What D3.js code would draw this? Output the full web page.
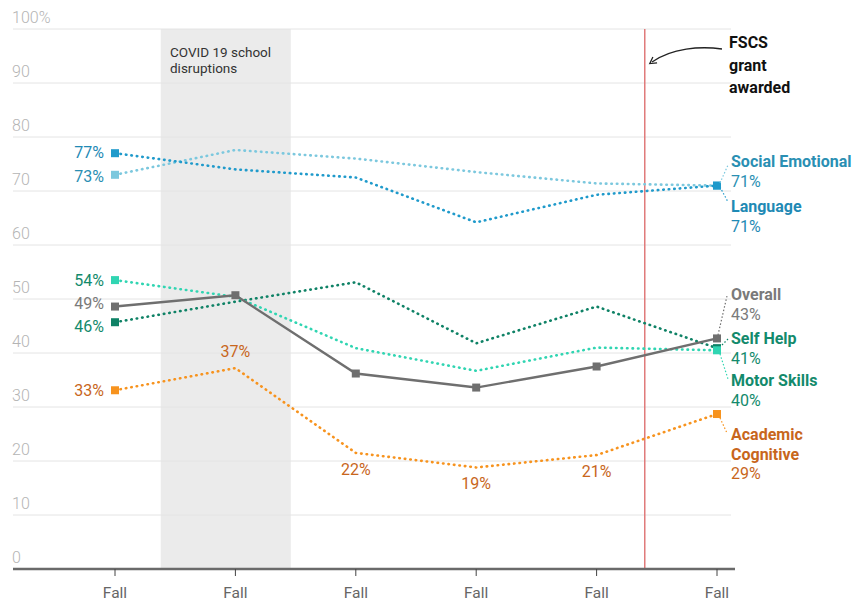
<!DOCTYPE html>
<html>
<head>
<meta charset="utf-8">
<script src="https://cdn.jsdelivr.net/npm/d3@7"></script>
<style>
  body { margin: 0; background: #fff; }
  svg { font-family: Roboto, "Noto Sans", sans-serif; }
</style>
</head>
<body>
<div id="chart"></div>
<script>
// Data
const periods = ["Fall", "Fall", "Fall", "Fall", "Fall", "Fall"];
const yTicks = [0, 10, 20, 30, 40, 50, 60, 70, 80, 90, 100];

const socialEmotional = [73, 77.6, 76, 73.5, 71.4, 71];
const language = [77, 74, 72.5, 64.2, 69.3, 71];
const overall = [48.6, 50.7, 36.2, 33.6, 37.5, 42.7];
const selfHelp = [45.7, 49.5, 53.1, 41.8, 48.6, 40.9];
const motorSkills = [53.5, 50.4, 40.9, 36.7, 41, 40.5];
const academicCognitive = [33.1, 37.2, 21.5, 18.8, 21.1, 28.7];

// shaded covid period and grant line, in period-index units
const covidSpan = [0.38, 1.46];
const grantAt = 4.4;

const series = [
  { name: ["Social Emotional"], values: socialEmotional, line: "#7cc8de", mark: "#7cc8de", text: "#2a8fb3", dotted: true, endLabel: "71%", startLabel: "73%" },
  { name: ["Language"], values: language, line: "#1f9acb", mark: "#1f9acb", text: "#1f8ab5", dotted: true, endLabel: "71%", startLabel: "77%" },
  { name: ["Self Help"], values: selfHelp, line: "#0f8266", mark: "#0f8266", text: "#138a6c", dotted: true, endLabel: "41%", startLabel: "46%" },
  { name: ["Motor Skills"], values: motorSkills, line: "#30d5b2", mark: "#30d5b2", text: "#138a6c", dotted: true, endLabel: "40%", startLabel: "54%" },
  { name: ["Academic", "Cognitive"], values: academicCognitive, line: "#f7931e", mark: "#f7931e", text: "#c8661c", dotted: true, endLabel: "29%", startLabel: "33%" },
  { name: ["Overall"], values: overall, line: "#6f6f6f", mark: "#6f6f6f", text: "#7a7a7a", dotted: false, endLabel: "43%", startLabel: "49%" }
];

const width = 865, height = 601;
const svg = d3.select("#chart").append("svg")
  .attr("width", width)
  .attr("height", height);

const x = d3.scaleLinear().domain([0, periods.length - 1]).range([115, 717]);
const y = d3.scaleLinear().domain([0, 100]).range([569, 29]);
const gridLeft = 13, gridRight = 731;

// covid band
svg.append("rect")
  .attr("x", x(covidSpan[0]))
  .attr("y", y(100))
  .attr("width", x(covidSpan[1]) - x(covidSpan[0]))
  .attr("height", y(0) - y(100))
  .attr("fill", "#ebebeb");

// gridlines
svg.selectAll("line.grid")
  .data(yTicks.filter(d => d > 0))
  .enter().append("line")
  .attr("class", "grid")
  .attr("x1", gridLeft).attr("x2", gridRight)
  .attr("y1", d => y(d)).attr("y2", d => y(d))
  .attr("stroke", "#e4e4e4")
  .attr("stroke-width", 1);

// y labels
svg.selectAll("text.ytick")
  .data(yTicks)
  .enter().append("text")
  .attr("class", "ytick")
  .attr("x", 12)
  .attr("y", d => y(d) - 6.5)
  .attr("fill", "#b4b4b4")
  .style("font-size", "16px")
  .style("font-weight", 300)
  .text(d => d === 100 ? "100%" : d);

svg.append("text")
  .attr("x", 170).attr("y", 57)
  .attr("fill", "#333")
  .style("font-size", "13.5px")
  .text("COVID 19 school");
svg.append("text")
  .attr("x", 170).attr("y", 73)
  .attr("fill", "#333")
  .style("font-size", "13.5px")
  .text("disruptions");

// grant line
svg.append("line")
  .attr("x1", x(grantAt)).attr("x2", x(grantAt))
  .attr("y1", y(100)).attr("y2", y(0))
  .attr("stroke", "#e07a7a")
  .attr("stroke-width", 1.5);

// grant annotation
svg.append("defs").append("marker")
  .attr("id", "arrow")
  .attr("viewBox", "0 0 10 10")
  .attr("refX", 5).attr("refY", 5)
  .attr("markerWidth", 7).attr("markerHeight", 7)
  .attr("orient", "auto-start-reverse")
  .append("path")
  .attr("d", "M1,1 L8,5 L1,9")
  .attr("fill", "none")
  .attr("stroke", "#222")
  .attr("stroke-width", 1.4);

svg.append("path")
  .attr("d", "M722,49 C700,46 672,48 652,62")
  .attr("fill", "none")
  .attr("stroke", "#222")
  .attr("stroke-width", 1.3)
  .attr("marker-end", "url(#arrow)");

["FSCS", "grant", "awarded"].forEach((t, i) => {
  svg.append("text")
    .attr("x", 729).attr("y", 48 + i * 22.5)
    .attr("fill", "#111")
    .style("font-size", "16px")
    .style("font-weight", "bold")
    .text(t);
});

// x axis
svg.append("line")
  .attr("x1", gridLeft).attr("x2", gridRight + 4)
  .attr("y1", y(0)).attr("y2", y(0))
  .attr("stroke", "#6a6a6a")
  .attr("stroke-width", 2.5);

svg.selectAll("line.xtick")
  .data(periods)
  .enter().append("line")
  .attr("class", "xtick")
  .attr("x1", (d, i) => x(i)).attr("x2", (d, i) => x(i))
  .attr("y1", y(0)).attr("y2", y(0) + 7)
  .attr("stroke", "#444")
  .attr("stroke-width", 1);

svg.selectAll("text.xlabel")
  .data(periods)
  .enter().append("text")
  .attr("class", "xlabel")
  .attr("x", (d, i) => x(i))
  .attr("y", 598)
  .attr("text-anchor", "middle")
  .attr("fill", "#666")
  .style("font-size", "15.5px")
  .text(d => d);

// lines
const lineGen = d3.line()
  .x((d, i) => x(i))
  .y(d => y(d));

series.forEach(s => {
  svg.append("path")
    .datum(s.values)
    .attr("d", lineGen)
    .attr("fill", "none")
    .attr("stroke", s.line)
    .attr("stroke-width", s.dotted ? 2.6 : 2.4)
    .attr("stroke-linecap", s.dotted ? "round" : "butt")
    .attr("stroke-dasharray", s.dotted ? "0.5,5" : null);
});

// markers on first and last points (overall has every point)
series.forEach(s => {
  const idx = s.dotted ? [0, s.values.length - 1] : d3.range(s.values.length);
  svg.selectAll(null)
    .data(idx)
    .enter().append("rect")
    .attr("x", i => x(i) - 4)
    .attr("y", i => y(s.values[i]) - 4)
    .attr("width", 8).attr("height", 8)
    .attr("fill", s.mark);
});

// left value labels
const leftLabelY = {
  "Social Emotional": 182, "Language": 158, "Self Help": 332,
  "Motor Skills": 286, "Academic": 396, "Overall": 309
};
series.forEach(s => {
  svg.append("text")
    .attr("x", 104)
    .attr("y", leftLabelY[s.name[0]])
    .attr("text-anchor", "end")
    .attr("fill", s.name[0] === "Overall" ? "#7a7a7a" : s.text)
    .style("font-size", "16px")
    .text(s.startLabel);
});

// academic cognitive mid labels
const midLabels = ["37%", "22%", "19%", "21%"];
const midOffsets = [-11, 22, 22, 22];
midLabels.forEach((t, k) => {
  const i = k + 1;
  svg.append("text")
    .attr("x", x(i))
    .attr("y", y(academicCognitive[i]) + midOffsets[k])
    .attr("text-anchor", "middle")
    .attr("fill", "#c8661c")
    .style("font-size", "16px")
    .text(t);
});

// right labels with connector lines
const rightLabels = [
  { s: "Social Emotional", top: 167, from: [720, 183], to: [728, 165] },
  { s: "Language", top: 212, from: [720, 187], to: [728, 202] },
  { s: "Overall", top: 300, from: [718, 335], to: [727, 296] },
  { s: "Self Help", top: 344, from: [722, 345], to: [728, 339] },
  { s: "Motor Skills", top: 386, from: [720, 354], to: [728, 379] },
  { s: "Academic", top: 440, from: [720, 418], to: [727, 433] }
];
rightLabels.forEach(r => {
  const s = series.find(d => d.name[0] === r.s);
  svg.append("line")
    .attr("x1", r.from[0]).attr("y1", r.from[1])
    .attr("x2", r.to[0]).attr("y2", r.to[1])
    .attr("stroke", s.line)
    .attr("stroke-width", 1.2)
    .attr("stroke-dasharray", "1.5,2");
  s.name.forEach((n, j) => {
    svg.append("text")
      .attr("x", 731)
      .attr("y", r.top + j * 20)
      .attr("fill", s.text)
      .style("font-size", "16px")
      .style("font-weight", "bold")
      .text(n);
  });
  svg.append("text")
    .attr("x", 731)
    .attr("y", r.top + s.name.length * 19.5)
    .attr("fill", s.text)
    .style("font-size", "16px")
    .text(s.endLabel);
});
</script>
</body>
</html>
